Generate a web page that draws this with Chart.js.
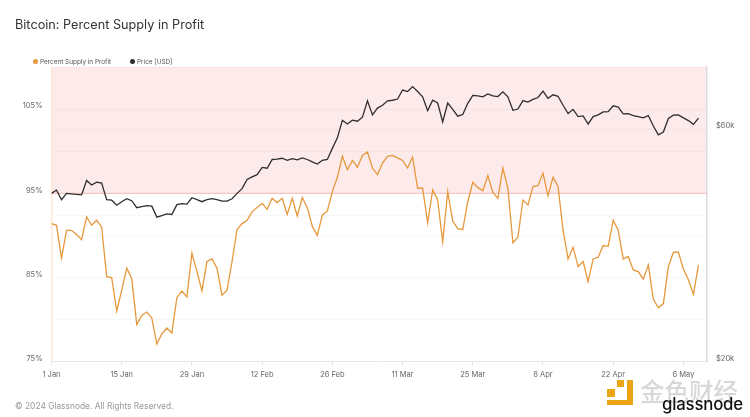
<!DOCTYPE html>
<html lang="en">
<head>
  <meta charset="UTF-8">
  <title>Bitcoin: Percent Supply in Profit</title>
  <script src="https://cdn.jsdelivr.net/npm/chart.js"></script>
  <style>
    html, body { margin: 0; padding: 0; background: #fff; }
    body { width: 750px; height: 417px; position: relative; overflow: hidden; font-family: Inter, sans-serif; }
    canvas { position: absolute; left: 0; top: 0; }
    .title { position: absolute; left: 15px; top: 17px; font-size: 12.7px; color: #333; white-space: nowrap; }
    .legend { position: absolute; left: 33px; top: 57.5px; font-size: 6.4px; color: #555; white-space: nowrap; }
    .legend span { position: absolute; top: 0; }
    .legend i { position: absolute; top: 1.5px; width: 5px; height: 5px; border-radius: 50%; }
    .footer { position: absolute; left: 15px; top: 401px; font-size: 8.4px; color: #999; white-space: nowrap; }
    .wm { position: absolute; white-space: nowrap; }
    .wm-cn { left: 640px; top: 373px; font-family: "Noto Sans CJK SC"; font-size: 24.5px; color: #d8d8d8; font-weight: 500; }
    .wm-en { left: 662px; top: 394px; font-size: 16.8px; color: #111; font-weight: 500; letter-spacing: -0.2px; }
    .sq { position: absolute; background: #eca514; }
  </style>
</head>
<body>
  <canvas id="chart" width="750" height="417"></canvas>
  <div class="title">Bitcoin: Percent Supply in Profit</div>
  <div class="legend" id="legend"></div>
  <div class="footer">© 2024 Glassnode. All Rights Reserved.</div>
  <div class="sq" style="left:617px;top:380px;width:7px;height:7px"></div>
  <div class="sq" style="left:607px;top:389px;width:8px;height:8px"></div>
  <div class="sq" style="left:627px;top:380px;width:6px;height:25px"></div>
  <div class="sq" style="left:607px;top:400px;width:26px;height:5px"></div>
  <div class="wm wm-cn">金色财经</div>
  <div class="wm wm-en">glassnode</div>
  <script>
    const tickDates = ['1 Jan', '15 Jan', '29 Jan', '12 Feb', '26 Feb', '11 Mar', '25 Mar', '8 Apr', '22 Apr', '6 May'];
    const leftTicksShown = [75, 85, 95, 105];
    const rightTicks = [20000, 40000, 60000];
    const rightTicksShown = { 20000: '$20k', 60000: '$60k' };
    const threshold = 95;

    // one value per day from 1 Jan
    const supplyInProfit = [
      91.4, 91.2, 87.3, 90.6, 90.6, 90.1, 89.5, 92.2, 91.2, 91.8,
      91.0, 85.1, 85.0, 81.0, 83.5, 86.1, 84.9, 79.4, 80.5, 80.9,
      80.2, 77.1, 78.3, 79.0, 78.4, 82.6, 83.4, 82.7, 87.9, 85.7,
      83.4, 86.9, 87.2, 86.1, 82.9, 83.5, 86.9, 90.7, 91.4, 91.8,
      92.8, 93.3, 93.8, 93.1, 94.4, 93.9, 94.4, 92.5, 94.4, 92.3,
      94.5, 93.3, 91.1, 90.0, 92.4, 92.9, 95.2, 96.9, 99.4, 97.8,
      98.9, 98.1, 99.5, 99.9, 98.0, 97.2, 98.6, 99.4, 99.5, 99.2,
      98.9, 98.0, 99.3, 95.6, 95.6, 91.5, 95.4, 94.2, 89.2, 95.2,
      91.7, 90.8, 90.7, 94.0, 96.3, 95.7, 95.3, 97.1, 95.1, 94.4,
      98.0, 95.6, 89.1, 89.8, 94.2, 93.6, 95.8, 95.9, 97.4, 94.7,
      96.9, 95.8, 90.6, 87.2, 88.6, 86.3, 86.9, 84.5, 87.2, 87.4,
      88.8, 88.7, 91.8, 90.6, 87.2, 87.5, 85.9, 85.7, 84.8, 86.5,
      82.4, 81.4, 81.9, 86.3, 88.0, 88.0, 86.0, 84.7, 83.0, 86.5
    ];
    const priceUsd = [
      44300, 45000, 43000, 44300, 44200, 44100, 44000, 47100, 46100, 46700,
      46500, 43000, 42900, 41900, 42600, 43200, 42800, 41400, 41600, 41800,
      41700, 39600, 39900, 40200, 40100, 42000, 42200, 42100, 43400, 43000,
      42600, 43000, 43200, 43000, 42700, 42700, 43200, 44300, 45300, 47300,
      47900, 48400, 50100, 49900, 52000, 52100, 52300, 51800, 52200, 51900,
      52400, 52000, 51400, 50900, 51800, 52000, 54800, 57600, 62600, 61500,
      62600, 62300, 63500, 68600, 64200, 66300, 67200, 68600, 68800, 69200,
      72200, 71700, 73400, 71700, 69900, 65500, 68800, 67900, 62100, 67900,
      65900, 63800, 64300, 67800, 70400, 70200, 69900, 70900, 70200, 70000,
      71600, 69900, 65600, 66000, 68700, 68200, 69100, 69700, 71800, 69400,
      70600, 70100, 67200, 64600, 65900, 63700, 63900, 61500, 63700, 64200,
      65100, 65200, 67000, 66600, 64500, 64600, 64000, 63700, 63300, 64000,
      60900, 58400, 59200, 63100, 64100, 64200, 63300, 62500, 61400, 63200
    ];

    const seriesNames = ['Percent Supply in Profit', 'Price [USD]'];
    const seriesColors = ['#e6983c', '#2e2e2e'];

    const legendBox = document.getElementById('legend');
    [0, 97].forEach((left, i) => {
      legendBox.innerHTML += `<i style="left:${left}px;background:${seriesColors[i]}"></i>` +
        `<span style="left:${left + 7}px">${seriesNames[i]}</span>`;
    });

    // pink zone above the threshold and its line
    const zonePlugin = {
      id: 'zone',
      beforeDraw(chart) {
        const { ctx, chartArea, scales } = chart;
        const y = scales.y.getPixelForValue(threshold);
        ctx.save();
        ctx.fillStyle = '#fdeaeb';
        ctx.fillRect(chartArea.left, chartArea.top, chartArea.width, y - chartArea.top);
        ctx.restore();
      },
      beforeDatasetsDraw(chart) {
        const { ctx, chartArea, scales } = chart;
        const y = scales.y.getPixelForValue(threshold);
        ctx.save();
        ctx.strokeStyle = '#f4bcb8';
        ctx.lineWidth = 1;
        ctx.beginPath();
        ctx.moveTo(chartArea.left, y);
        ctx.lineTo(chartArea.right, y);
        ctx.stroke();
        ctx.restore();
      }
    };

    const toPoints = values => values.map((v, i) => ({ x: i, y: v }));

    new Chart(document.getElementById('chart'), {
      type: 'line',
      data: {
        datasets: [
          { label: seriesNames[1], data: toPoints(priceUsd), yAxisID: 'y1', borderColor: seriesColors[1], borderWidth: 1.3, pointRadius: 0, tension: 0 },
          { label: seriesNames[0], data: toPoints(supplyInProfit), yAxisID: 'y', borderColor: seriesColors[0], borderWidth: 1.3, pointRadius: 0, tension: 0 }
        ]
      },
      plugins: [zonePlugin],
      options: {
        responsive: false,
        animation: false,
        layout: { padding: { top: 67, left: 0, right: 0, bottom: 0 } },
        plugins: { legend: { display: false }, tooltip: { enabled: false } },
        scales: {
          x: {
            type: 'linear',
            min: 0,
            max: 130.7,
            afterFit(axis) { axis.height = 55.3; },
            border: { color: '#e6e6e6' },
            grid: { drawOnChartArea: false, color: '#e6e6e6', tickLength: 4 },
            ticks: {
              stepSize: 14,
              includeBounds: false,
              maxRotation: 0,
              autoSkip: false,
              padding: 5,
              color: '#666',
              font: { family: 'Inter', size: 7.5 },
              callback: v => tickDates[v / 14]
            }
          },
          y: {
            position: 'left',
            min: 75,
            max: 110,
            afterFit(axis) { axis.width = 51.5; },
            border: { color: '#fbe9d3', width: 1.5 },
            grid: { color: 'rgba(120,120,120,0.06)', drawTicks: false },
            ticks: {
              stepSize: 5,
              padding: 9,
              labelOffset: -3,
              color: '#666',
              font: { family: 'Inter', size: 7.5 },
              callback: v => leftTicksShown.includes(v) ? v + '%' : ''
            }
          },
          y1: {
            type: 'logarithmic',
            position: 'right',
            min: 20000,
            max: 80500,
            afterFit(axis) { axis.width = 43; },
            afterBuildTicks(axis) { axis.ticks = rightTicks.map(v => ({ value: v })); },
            border: { color: '#dcdcdc', width: 1.5 },
            grid: { color: 'rgba(120,120,120,0.05)', drawTicks: false },
            ticks: {
              padding: 9,
              labelOffset: -3,
              color: '#666',
              font: { family: 'Inter', size: 7.5 },
              callback: v => rightTicksShown[v] || ''
            }
          }
        }
      }
    });
  </script>
</body>
</html>
